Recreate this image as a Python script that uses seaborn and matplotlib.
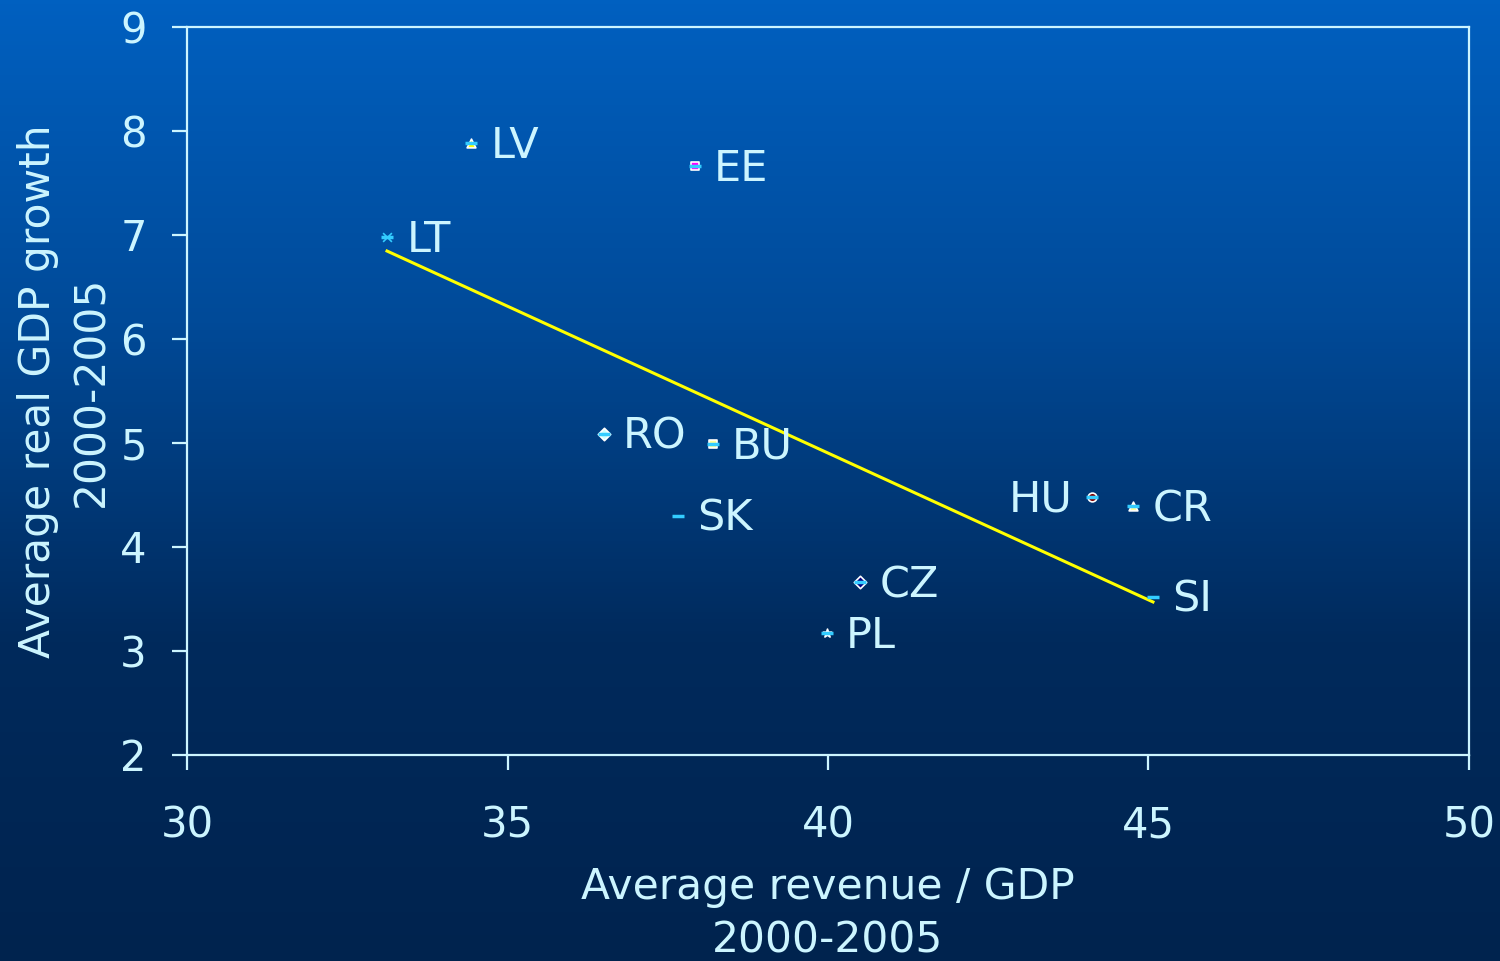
import numpy as np
import matplotlib
matplotlib.use('Agg')
import matplotlib.pyplot as plt
import seaborn as sns
import pandas as pd

# dados
paises = ['LV', 'EE', 'LT', 'RO', 'BU', 'SK', 'CZ', 'PL', 'HU', 'CR', 'SI']
receita = [34.43, 37.92, 33.12, 36.50, 38.20, 37.66, 40.50, 39.98, 44.12, 44.76, 45.07]
crescimento = [7.88, 7.66, 6.98, 5.09, 4.99, 4.30, 3.66, 3.17, 4.48, 4.39, 3.52]

marcadores = {'LV': '^', 'EE': 's', 'LT': 'x', 'RO': 'D', 'BU': 's', 'SK': '_',
              'CZ': 'D', 'PL': '*', 'HU': 'o', 'CR': '^', 'SI': '_'}
cores = {'LV': '#FFFF00', 'EE': '#FF00FF', 'LT': '#33CCFF', 'RO': '#CCFFFF',
         'BU': '#FFFF99', 'SK': '#33CCFF', 'CZ': '#000080', 'PL': '#800080',
         'HU': '#800000', 'CR': '#FFFF99', 'SI': '#33CCFF'}
lado_esquerdo = ['HU']

df = pd.DataFrame({'pais': paises, 'receita': receita, 'crescimento': crescimento})

texto = '#CCF5FF'
plt.rcParams['font.family'] = ['DejaVu Sans']

fig = plt.figure(figsize=(15, 9.61), dpi=100)

# fundo em degrade
fundo = fig.add_axes([0, 0, 1, 1], zorder=-10)
grad = np.linspace(0, 1, 256).reshape(-1, 1)
cmap = matplotlib.colors.LinearSegmentedColormap.from_list('fundo', ['#0060C0', '#004A98', '#002A5C', '#00234E'])
fundo.imshow(grad, aspect='auto', cmap=cmap, extent=[0, 1, 0, 1])
fundo.axis('off')

ax = fig.add_axes([0.1247, 0.2144, 0.8546, 0.7575])
ax.set_facecolor('none')

sns.regplot(data=df, x='receita', y='crescimento', scatter=False, ci=None,
            color='#FFFF00', line_kws={'linewidth': 2.2}, ax=ax)

# um marcador por pais
for p in paises:
    sub = df[df['pais'] == p]
    sns.scatterplot(data=sub, x='receita', y='crescimento', marker=marcadores[p],
                    color=cores[p], s=40, linewidth=1.2, legend=False, ax=ax, zorder=3)
# traco ciano por cima de cada marcador
sns.scatterplot(data=df, x='receita', y='crescimento', marker='_', color='#33CCFF',
                s=70, linewidth=2.5, legend=False, ax=ax, zorder=4)

for p, xv, yv in zip(paises, receita, crescimento):
    if p in lado_esquerdo:
        ax.annotate(p, (xv, yv), xytext=(-14, -2), textcoords='offset points',
                    ha='right', va='center', fontsize=31, color=texto)
    else:
        ax.annotate(p, (xv, yv), xytext=(14, -2), textcoords='offset points',
                    ha='left', va='center', fontsize=31, color=texto)

ax.set_xlim(30, 50)
ax.set_ylim(2, 9)
ax.set_xticks(range(30, 51, 5))
ax.set_yticks(range(2, 10))
for s in ax.spines.values():
    s.set_color(texto)
    s.set_linewidth(1.6)
ax.tick_params(axis='both', colors=texto, labelcolor=texto, labelsize=30,
               length=11, width=1.6, direction='out')
ax.tick_params(axis='x', pad=25)
ax.tick_params(axis='y', pad=18)

ax.set_xlabel('Average revenue / GDP\n2000-2005', fontsize=30.5, color=texto,
              linespacing=1.35, va='top')
ax.set_ylabel('Average real GDP growth\n2000-2005', fontsize=30.5, color=texto,
              linespacing=1.35)
ax.xaxis.set_label_coords(0.5, -0.1525)
ax.yaxis.set_label_coords(-0.058, 0.5)

plt.savefig('out.png', dpi=100)
plt.close()
